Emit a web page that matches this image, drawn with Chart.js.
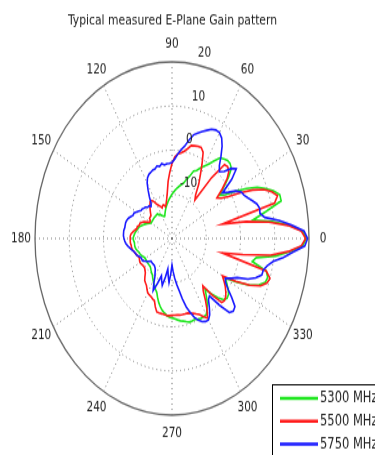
<!DOCTYPE html>
<html>
<head>
<meta charset="utf-8">
<script src="https://cdn.jsdelivr.net/npm/chart.js@4.4.1/dist/chart.umd.min.js"></script>
<style>
  html, body { margin: 0; padding: 0; background: #fff; }
  body { height: 455px; }
  /* the reference is stretched vertically, so the whole chart is drawn round and then scaled */
  #wrap { width: 375px; height: 353px; transform: scaleY(1.289); transform-origin: 0 0; }
</style>
</head>
<body>
<div id="wrap"><canvas id="gainChart"></canvas></div>
<script>
// angles in degrees, counter-clockwise from 0 (east), one row per 30 degrees
const angleDeg = [
  0,2.5,5,7.5,10,12.5,15,17.5,20,22.5,25,27.5,
  30,32.5,35,37.5,40,42.5,45,47.5,50,52.5,55,57.5,
  60,62.5,65,67.5,70,72.5,75,77.5,80,82.5,85,87.5,
  90,92.5,95,97.5,100,102.5,105,107.5,110,112.5,115,117.5,
  120,122.5,125,127.5,130,132.5,135,137.5,140,142.5,145,147.5,
  150,152.5,155,157.5,160,162.5,165,167.5,170,172.5,175,177.5,
  180,182.5,185,187.5,190,192.5,195,197.5,200,202.5,205,207.5,
  210,212.5,215,217.5,220,222.5,225,227.5,230,232.5,235,237.5,
  240,242.5,245,247.5,250,252.5,255,257.5,260,262.5,265,267.5,
  270,272.5,275,277.5,280,282.5,285,287.5,290,292.5,295,297.5,
  300,302.5,305,307.5,310,312.5,315,317.5,320,322.5,325,327.5,
  330,332.5,335,337.5,340,342.5,345,347.5,350,352.5,355,357.5];

// gain in dB at each angle
const gain5300 = [
  19.2,18.2,14.5,9.5,4,8,13,13,11.5,9.5,7.5,4.5,
  1.5,-1.5,-3,-1,1.5,3.5,4,4,3.5,3,1.5,0,
  -1,-2,-3,-3.5,-5,-6,-7,-7.5,-8,-8.5,-9,-9.5,
  -10,-10.5,-11,-11.5,-12,-12.5,-13,-13.5,-14,-14.5,-14.5,-14.2,
  -14,-13.5,-13.5,-13,-13,-13,-13,-13,-13,-13,-13,-13,
  -13,-12.5,-12,-11.5,-11,-10.5,-10,-9.8,-9.5,-9.2,-9,-8.8,
  -8.6,-8.8,-9,-9,-9,-9.2,-9.5,-9.8,-10,-10.2,-10.5,-10.8,
  -11,-11,-11,-11,-11,-11,-11,-10.8,-10.5,-10.2,-10,-9.5,
  -9,-8.5,-8,-7.5,-7,-6,-5,-4.2,-3.5,-3,-2.5,-2.2,
  -2,-1.8,-1.5,-1.2,-1,-0.7,-0.4,-0.4,-0.5,-0.2,0,0,
  0,-1,-2,-3.5,-5,-3,-1,0.5,1,0.8,0,-1,
  -2,1.5,5,7.5,9,9.3,8.5,4,5,10.5,14.5,18.2];
const gain5500 = [
  19.0,17.8,14,8.5,2,-5,11,12.3,11,9,6,2.5,
  -1,-3,-4,-1.5,1,2.5,3,2.7,-2,-9,-8,-5.5,
  -3.5,-1,1.5,2.3,2.2,2,1.8,0.8,0,-0.5,-0.8,-1.5,
  -3,-5,-7,-9.5,-11,-12,-12.5,-12,-12,-12.5,-12,-11.5,
  -11,-10,-9.5,-9.5,-10,-10.5,-11,-11.5,-12,-12,-12,-12.5,
  -12.5,-12,-11,-10.5,-10,-10,-9.5,-9.5,-9,-8.5,-8,-7.8,
  -7.8,-7.8,-7.8,-8,-8,-8.2,-8.5,-8.8,-9.1,-9.3,-9.5,-9.3,
  -9.2,-9.3,-9.5,-9.6,-9.6,-9.3,-9,-8.3,-7.6,-7.3,-7,-6.4,
  -5.8,-5.6,-5.5,-5.2,-5,-3.8,-2.8,-2.7,-2.7,-2.6,-2.5,-2.5,
  -2.6,-2.6,-2.6,-2.5,-2.5,-2.5,-2.5,-2.2,-2,-1.5,-1,0,
  0.8,-1,-3,-5,-6,-2.5,0.5,0.8,0.5,-0.2,-1,-2,
  -3,1,5,8,9.5,10,8.5,-5,1,9,14,17.8];
const gain5750 = [
  19.6,18.6,15,11.5,7.5,6.3,6.5,6,5,4,3.2,2.8,
  1.5,-0.5,-2,2,4.5,3.5,1.5,0.5,1.5,3.5,5.5,7,
  7.7,7.7,7.3,6.5,5.8,5,4.3,2.8,1.2,0.3,-0.8,-2,
  -2.8,-3,-3,-3.2,-2.8,-3.3,-3,-3.5,-3.5,-3.8,-4,-4.5,
  -5.5,-7,-8.5,-10,-10.5,-10,-10,-9.5,-9.3,-9,-9,-8.5,
  -8,-7.5,-7.5,-7,-6.5,-6.2,-6,-6,-6,-5.8,-5.8,-5.8,
  -6,-6.2,-6.5,-7,-7.5,-8,-8.5,-8.8,-9,-9.5,-9.9,-10,
  -10,-10.5,-11,-11.5,-12,-12,-12,-12,-12,-11.8,-11.5,-10.8,
  -10,-8.5,-7,-9,-11,-10,-9,-11,-13,-11.5,-10,-12,
  -14,-12.5,-11,-9.5,-8,-6,-4,-2.5,-1,0,0.8,1.2,
  1.3,0.5,-1,-2.5,-3,0.5,3.7,4.3,4,2,0,-1.5,
  -2,-0.5,1,4,6,7.5,7.6,8.5,10,12.8,15.5,18.8];

const seriesLabels = ['5300 MHz', '5500 MHz', '5750 MHz'];
const seriesColors = ['#1ee61e', '#ff1a1a', '#1a1aff'];

const angleTicks = [0,30,60,90,120,150,180,210,240,270,300,330];
const radialTicks = [-10, 0, 10, 20];
const titleText = 'Typical measured E-Plane Gain pattern';

// radar indexes run clockwise from east, so index i holds angle (360 - 2.5 i)
const N = angleDeg.length;
const radarIndex = i => (N - i) % N;
const toRadar = arr => arr.map((_, i) => arr[radarIndex(i)]);
const radarLabels = toRadar(angleDeg);

const font = 'DejaVu Sans';

// draws the angle labels, the dB ring labels and the legend box
const polarText = {
    id: 'polarText',
    afterDraw(chart) {
        const scale = chart.scales.r;
        const ctx = chart.ctx;
        ctx.save();
        ctx.fillStyle = '#222';
        ctx.font = '10.5px "' + font + '"';
        ctx.textAlign = 'center';
        ctx.textBaseline = 'middle';
        angleTicks.forEach(a => {
            const idx = radarLabels.indexOf(a);
            const p = scale.getPointPosition(idx, scale.drawingArea + 14);
            ctx.fillText(String(a), p.x, p.y);
        });

        // ring labels sit just right of the 80 degree direction
        ctx.textAlign = 'left';
        const idx80 = radarLabels.indexOf(80);
        radialTicks.forEach(v => {
            const p = scale.getPointPosition(idx80, scale.getDistanceFromCenterForValue(v));
            ctx.fillText(String(v), p.x + 2, p.y - 9);
        });

        // legend
        const lx = 272.5, ly = 298.5;
        ctx.fillStyle = '#fff';
        ctx.fillRect(lx, ly, 120, 70);
        ctx.strokeStyle = '#000';
        ctx.lineWidth = 1;
        ctx.strokeRect(lx, ly, 120, 70);
        ctx.font = '11.5px "' + font + '"';
        seriesLabels.forEach((label, i) => {
            const y = ly + 10.5 + i * 17.8;
            ctx.strokeStyle = seriesColors[i];
            ctx.lineWidth = 2.5;
            ctx.beginPath();
            ctx.moveTo(280, y);
            ctx.lineTo(318, y);
            ctx.stroke();
            ctx.fillStyle = '#222';
            ctx.fillText(label, 320, y);
        });
        ctx.restore();
    }
};

const ctx = document.getElementById('gainChart').getContext('2d');

const gainChart = new Chart(ctx, {
    type: 'radar',
    data: {
        labels: radarLabels,
        datasets: [
            {
                label: seriesLabels[0],
                data: toRadar(gain5300),
                borderColor: seriesColors[0],
                order: 2
            },
            {
                label: seriesLabels[1],
                data: toRadar(gain5500),
                borderColor: seriesColors[1],
                order: 1
            },
            {
                label: seriesLabels[2],
                data: toRadar(gain5750),
                borderColor: seriesColors[2],
                order: 0
            }
        ]
    },
    options: {
        responsive: true,
        maintainAspectRatio: false,
        animation: false,
        layout: {
            padding: { left: 35, right: 65, top: 0, bottom: 30 }
        },
        elements: {
            line: { borderWidth: 1.6, fill: false, tension: 0 },
            point: { radius: 0, hoverRadius: 0 }
        },
        plugins: {
            legend: { display: false },
            tooltip: { enabled: false },
            title: {
                display: true,
                text: titleText,
                color: '#222',
                font: { family: font, size: 10.8, weight: 'normal' },
                padding: { top: 10, bottom: 26 }
            }
        },
        scales: {
            r: {
                min: -20,
                max: 20,
                startAngle: 90,
                ticks: { display: false, stepSize: 10 },
                pointLabels: { display: false },
                grid: {
                    circular: true,
                    color: c => (c.tick && c.tick.value === 20) ? '#666' : '#777',
                    lineWidth: c => (c.tick && c.tick.value === 20) ? 1.3 : 1
                },
                border: {
                    dash: c => (c.tick && c.tick.value === 20) ? [] : [1, 3]
                },
                angleLines: {
                    color: '#777',
                    lineWidth: c => (radarLabels[c.index] % 30 === 0) ? 1 : 0,
                    borderDash: [1, 3]
                }
            }
        }
    },
    plugins: [polarText]
});
</script>
</body>
</html>
